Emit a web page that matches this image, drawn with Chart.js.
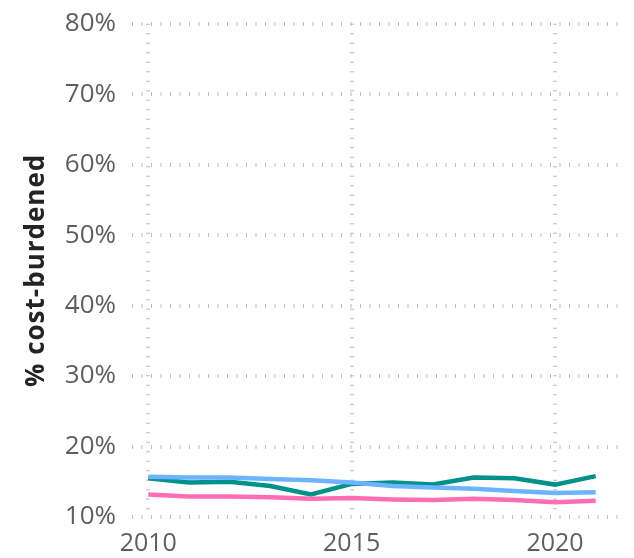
<!DOCTYPE html>
<html><head><meta charset="utf-8">
<script src="https://cdn.jsdelivr.net/npm/chart.js@4.4.1/dist/chart.umd.min.js"></script>
<style>html,body{margin:0;padding:0;background:#fff}#wrap{width:634px;height:558px}</style>
</head><body><div id="wrap"><canvas id="c" width="634" height="558"></canvas></div>
<script>
const years = [2010,2011,2012,2013,2014,2015,2016,2017,2018,2019,2020,2021];
const tealSeries = [15.5,14.9,15.0,14.4,13.2,14.7,14.9,14.6,15.6,15.5,14.6,15.8];
const blueSeries = [15.7,15.6,15.6,15.4,15.2,14.9,14.4,14.2,14.0,13.7,13.4,13.5];
const pinkSeries = [13.2,12.9,12.9,12.8,12.6,12.7,12.5,12.4,12.6,12.4,12.1,12.3];
const xTicks = [2010,2015,2020];
const yTicks = [10,20,30,40,50,60,70,80];
const yTitle = '% cost-burdened';

const mk = (arr) => years.map((y,i)=>({x:y,y:arr[i]}));
const gridStyle = {color:'#bdbdbd', lineWidth:4, drawTicks:false};
new Chart(document.getElementById('c'), {
  type:'line',
  data:{datasets:[
    {data:mk(pinkSeries), borderColor:'#FF6EB4', borderWidth:4.5, pointRadius:0, tension:0},
    {data:mk(blueSeries), borderColor:'#6CB4FF', borderWidth:4.5, pointRadius:0, tension:0},
    {data:mk(tealSeries), borderColor:'#00918B', borderWidth:4.5, pointRadius:0, tension:0}
  ]},
  options:{
    responsive:false, animation:false,
    layout:{padding:{top:18,right:9,left:0,bottom:0}},
    plugins:{legend:{display:false},tooltip:{enabled:false}},
    scales:{
      x:{type:'linear', min:2009.6, max:2021.72,
        afterBuildTicks:(s)=>{s.ticks = xTicks.map(v=>({value:v}));},
        afterFit:(s)=>{s.height=41;},
        border:{display:false, dash:[1,8.5]},
        grid:gridStyle,
        ticks:{color:'#605E5C', font:{family:'Open Sans', size:25, lineHeight:0.6}, padding:19, maxRotation:0, callback:(v)=>String(v)}
      },
      y:{min:10, max:80,
        afterBuildTicks:(s)=>{s.ticks = yTicks.map(v=>({value:v}));},
        afterFit:(s)=>{
          s.width=132;
          if(!s._lsPatched){
            const orig = s.drawTitle;
            s.drawTitle = function(){ const c=this.ctx; c.save(); c.letterSpacing='1px'; orig.apply(this, arguments); c.restore(); };
            s._lsPatched = true;
          }
        },
        border:{display:false, dash:[1,8.5]},
        grid:gridStyle,
        ticks:{color:'#605E5C', font:{family:'Open Sans', size:26, lineHeight:0.6}, padding:16, callback:(v)=>v+'%'},
        title:{display:true, text:yTitle, color:'#252423', font:{family:'Open Sans', size:26, weight:'bold'}, padding:{top:21,bottom:4}}
      }
    }
  }
});
</script></body></html>
